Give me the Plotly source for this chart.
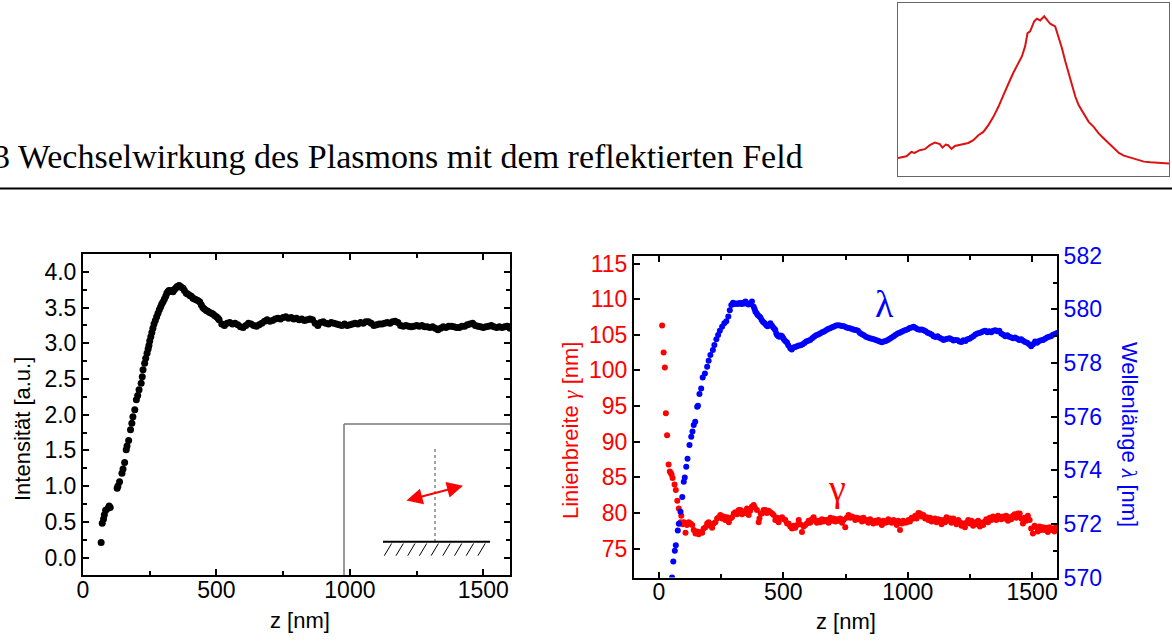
import plotly.graph_objects as go

W, H = 1172, 642

# ---------------- data ----------------
# left panel: intensity vs z
z_int = [68, 72, 77, 80, 85, 94, 98, 102, 128, 131, 137, 146, 150, 156, 162, 165, 171, 178, 183, 187,
         194, 200, 205, 210, 218, 222, 225, 231, 235, 240, 244, 247, 250, 254, 258, 262, 266, 271, 276, 281,
         286, 291, 295,
         300, 305, 310, 314, 318, 322, 327, 332, 337, 342, 347, 352, 356, 360, 364, 370, 375, 380, 387, 393,
         400, 406, 412, 418, 424, 430, 437, 443, 449, 455, 462, 468, 475, 481, 487, 493, 500, 506,
         510, 520, 530, 540, 550, 560, 570, 580, 590, 600, 610, 620, 630, 640, 650, 660, 670, 680, 690, 700,
         710, 720, 730, 740, 750, 760, 770, 780, 790, 800, 810, 820, 830, 840, 850, 860, 870, 880, 890, 900,
         910, 920, 930, 940, 950, 960, 970, 980, 990, 1000, 1010, 1020, 1030, 1040, 1050, 1060, 1070, 1080,
         1090, 1100, 1110, 1120, 1130, 1140, 1150, 1160, 1170, 1180, 1190, 1200, 1210, 1220, 1230, 1240,
         1250, 1260, 1270, 1280, 1290, 1300, 1310, 1320, 1330, 1340, 1350, 1360, 1370, 1380, 1390, 1400,
         1410, 1420, 1430, 1440, 1450, 1460, 1470, 1480, 1490, 1500, 1510, 1520, 1530, 1540, 1550, 1560,
         1570, 1580, 1590, 1600]
intensity = [0.21, 0.48, 0.54, 0.60, 0.66, 0.69, 0.72, 0.70, 0.97, 1.00, 1.06, 1.18, 1.24, 1.33, 1.51, 1.56,
             1.64, 1.79, 1.88, 1.97, 2.07, 2.21, 2.27, 2.35, 2.44, 2.53, 2.63, 2.72, 2.79, 2.86, 2.92, 2.97,
             3.03, 3.09, 3.15, 3.21, 3.27, 3.32, 3.37, 3.42, 3.47, 3.51, 3.55,
             3.58, 3.62, 3.66, 3.70, 3.72, 3.74, 3.73, 3.74, 3.72, 3.75, 3.77, 3.79, 3.80, 3.81, 3.80, 3.78,
             3.77, 3.74, 3.70, 3.69, 3.67, 3.66, 3.63, 3.62, 3.61, 3.60, 3.58, 3.54, 3.50, 3.48, 3.46, 3.45,
             3.43, 3.42, 3.41, 3.39, 3.37, 3.35,
             3.33, 3.27, 3.25, 3.28, 3.29, 3.27, 3.28, 3.26, 3.23, 3.22, 3.25, 3.28, 3.27, 3.25, 3.24, 3.26,
             3.28, 3.31, 3.33, 3.31, 3.32, 3.34, 3.35, 3.34, 3.36, 3.37, 3.35, 3.36, 3.34, 3.35, 3.33, 3.34,
             3.32, 3.33, 3.34, 3.33, 3.28, 3.25, 3.29, 3.30, 3.28, 3.27, 3.29, 3.28, 3.27, 3.26, 3.25, 3.27,
             3.25, 3.26, 3.27, 3.28, 3.27, 3.29, 3.28, 3.30, 3.30, 3.28, 3.25, 3.26, 3.27, 3.27, 3.28, 3.29,
             3.28, 3.30, 3.31, 3.29, 3.25, 3.24, 3.25, 3.24, 3.23, 3.24, 3.25, 3.24, 3.25, 3.23, 3.23, 3.22,
             3.23, 3.21, 3.19, 3.21, 3.23, 3.22, 3.24, 3.24, 3.23, 3.22, 3.22, 3.24, 3.24, 3.26, 3.27, 3.28,
             3.25, 3.24, 3.23, 3.22, 3.23, 3.24, 3.25, 3.23, 3.22, 3.23, 3.22, 3.23, 3.24, 3.21]

# right panel: linewidth gamma vs z
z_gamma = [13, 19, 24, 28, 33, 39, 44, 48, 51, 55, 63, 68, 74, 80, 87, 90, 95, 100, 103, 107, 113, 120, 127,
           134, 140, 147, 153, 160, 167, 174, 180, 187, 194, 200, 207, 214, 220, 227, 234, 241, 247, 254, 260,
           267, 274, 281, 287, 294, 301, 307, 314, 321, 328, 334, 341, 348, 354, 361, 367, 374, 381, 385, 394,
           401, 404, 409, 414, 421, 428, 434, 441, 448, 455, 461, 468, 475, 481, 488, 495, 501, 508, 515, 521,
           528, 535, 541, 548, 555, 562, 568, 575, 582, 588, 595, 602, 608, 615, 622, 628, 635, 642, 648, 655,
           662, 668, 675, 682, 689, 695, 702, 709, 716, 722, 729, 736, 742, 749, 755, 762, 769, 775, 782, 789,
           796, 802, 809, 816, 822, 829, 836, 842, 849, 856, 862, 869, 876, 882, 889, 896, 902, 909, 916, 922,
           929, 936, 943, 949, 956, 962, 969, 976, 982, 989, 996, 1003, 1009, 1016, 1023, 1030, 1036, 1043,
           1050, 1056, 1063, 1070, 1076, 1083, 1090, 1096, 1103, 1110, 1116, 1123, 1130, 1136, 1143, 1150,
           1156, 1163, 1170, 1176, 1183, 1190, 1196, 1203, 1210, 1216, 1223, 1230, 1236, 1243, 1250, 1256,
           1263, 1270, 1276, 1283, 1290, 1296, 1303, 1310, 1316, 1323, 1330, 1336, 1343, 1350, 1356, 1363,
           1370, 1376, 1383, 1390, 1396, 1403, 1410, 1416, 1423, 1430, 1436, 1443, 1450, 1456, 1463, 1470,
           1476, 1483, 1490, 1496, 1503, 1510, 1516, 1523, 1530, 1536, 1543, 1550, 1556, 1563, 1570, 1576,
           1583, 1590, 1596]
gamma = [106.3, 102.5, 100.4, 94.0, 90.9, 86.8, 85.8, 85.6, 85.4, 84.9, 84.0, 83.2, 81.7, 80.6, 78.7, 79.6,
         78.4, 78.7, 78.6, 77.2, 78.3, 78.7, 78.5, 78.3, 77.6, 77.1, 77.4, 77.0, 77.3, 77.2, 77.8, 78.0, 78.5,
         78.7, 78.2, 77.9, 78.5, 78.7, 79.2, 79.4, 79.7, 79.2, 79.5, 79.0, 79.4, 78.7, 79.2, 79.4, 79.9, 80.1,
         79.8, 80.4, 80.4, 79.8, 80.2, 80.0, 80.6, 79.7, 80.3, 80.9, 81.1, 80.8, 80.4, 78.7, 79.2, 79.9, 79.9,
         80.4, 80.4, 80.0, 80.3, 80.1, 79.9, 79.7, 79.0, 79.3, 78.7, 79.2, 79.4, 79.1, 79.0, 78.5, 78.5, 78.1,
         77.8, 78.2, 77.9, 78.3, 79.0, 78.4, 77.3, 78.1, 78.3, 78.5, 78.9, 78.6, 79.1, 79.4, 78.9, 78.6, 78.9,
         78.7, 79.1, 78.8, 79.0, 79.0, 78.6, 79.3, 78.9, 79.2, 78.8, 79.1, 78.9, 79.2, 78.6, 79.0, 78.0, 79.3,
         79.7, 79.3, 79.5, 79.4, 79.0, 79.3, 79.1, 79.2, 78.8, 79.3, 78.9, 79.0, 78.6, 79.1, 78.8, 78.5, 78.9,
         78.6, 79.0, 78.7, 78.3, 78.9, 78.6, 78.7, 79.1, 78.8, 78.6, 79.0, 78.8, 78.3, 78.9, 77.6, 78.5, 78.9,
         78.6, 78.7, 79.0, 78.8, 79.3, 79.2, 79.6, 79.2, 80.0, 79.9, 79.5, 79.7, 79.2, 79.4, 79.0, 79.3, 78.8,
         79.0, 79.2, 78.7, 79.1, 79.0, 78.4, 79.0, 78.7, 79.4, 78.9, 79.2, 78.6, 79.2, 78.9, 78.4, 79.0, 78.7,
         78.2, 78.5, 78.0, 78.6, 79.0, 78.5, 78.9, 78.2, 78.7, 78.4, 78.9, 78.1, 78.6, 78.3, 78.8, 79.1, 78.7,
         79.3, 79.0, 79.5, 79.2, 79.0, 79.6, 79.4, 79.1, 79.5, 79.2, 79.6, 78.9, 79.4, 79.1, 79.6, 79.8, 79.3,
         79.9, 79.9, 79.2, 78.5, 79.3, 78.9, 79.6, 79.0, 77.8, 77.1, 78.2, 78.0, 77.4, 78.1, 77.6, 78.0, 77.6,
         77.9, 77.3, 78.0, 77.6, 77.8, 77.4, 78.0]

# right panel: resonance wavelength lambda vs z
z_lambda = [53, 58, 64, 68, 76, 80, 87, 94, 100, 104, 110, 115, 123, 130, 135, 140, 146, 154, 157, 163, 170,
            176, 185, 194, 200, 207, 217, 223, 231, 238, 245, 254, 263, 271, 279, 285, 291, 298, 304, 310, 317,
            323, 328, 333, 338, 343, 348, 354, 360, 365, 370, 374, 381, 385, 388, 393, 397, 403, 408, 413, 418,
            423, 428, 433, 437, 443, 448, 454, 459, 464, 468, 472, 475, 480, 485, 490, 495, 500, 504, 510, 515,
            520, 528, 534, 541, 548, 555, 562, 570, 578, 585, 592, 600, 608, 616, 624, 632, 640, 648, 656, 664,
            672, 680, 688, 696, 704, 712, 720, 728, 736, 744, 752, 760, 768, 776, 784, 792, 800, 808, 816, 824,
            832, 840, 848, 856, 864, 872, 880, 888, 896, 904, 912, 920, 928, 936, 944, 952, 960, 968, 976, 984,
            992, 1000, 1008, 1016, 1024, 1032, 1040, 1048, 1056, 1064, 1072, 1080, 1088, 1096, 1104, 1112, 1120,
            1128, 1136, 1144, 1152, 1160, 1168, 1176, 1184, 1192, 1200, 1208, 1216, 1224, 1232, 1240, 1248,
            1256, 1264, 1272, 1280, 1288, 1296, 1304, 1312, 1320, 1328, 1336, 1344, 1352, 1360, 1368, 1376,
            1384, 1392, 1400, 1408, 1416, 1424, 1432, 1440, 1448, 1456, 1464, 1472, 1480, 1488, 1496, 1504,
            1512, 1520, 1528, 1536, 1544, 1552, 1560, 1568, 1576, 1584, 1592, 1600]
wavelength = [570.0, 570.6, 571.0, 571.2, 571.75, 572.0, 572.45, 573.0, 573.57, 573.73, 574.13, 574.43,
              574.94, 575.25, 575.44, 575.69, 575.81, 576.37, 576.4, 576.84, 577.05, 577.46, 577.61, 577.86,
              578.08, 578.3, 578.48, 578.67, 578.88, 579.04, 579.2, 579.35, 579.48, 579.56, 579.73, 579.97,
              580.16, 580.25, 580.2, 580.22, 580.2, 580.24, 580.22, 580.2, 580.25, 580.22, 580.29, 580.22,
              580.18, 580.2, 580.25, 580.29, 580.1, 580.0, 579.91, 579.85, 579.79, 579.74, 579.7, 579.6,
              579.54, 579.5, 579.45, 579.4, 579.37, 579.42, 579.48, 579.4, 579.33, 579.28, 579.23, 579.1,
              579.04, 579.0, 578.98, 579.02, 579.0, 578.92, 578.86, 578.8, 578.76, 578.66, 578.55, 578.5,
              578.58, 578.6, 578.62, 578.65, 578.66, 578.7, 578.74, 578.8, 578.83, 578.86, 578.92, 578.98,
              579.03, 579.06, 579.1, 579.15, 579.17, 579.22, 579.27, 579.29, 579.33, 579.36, 579.4, 579.41,
              579.4, 579.38, 579.37, 579.33, 579.3, 579.29, 579.27, 579.24, 579.23, 579.2, 579.12, 579.07,
              579.03, 578.98, 578.95, 578.92, 578.9, 578.88, 578.86, 578.83, 578.8, 578.77, 578.8, 578.82,
              578.86, 578.9, 578.95, 579.0, 579.05, 579.1, 579.13, 579.16, 579.2, 579.23, 579.26, 579.3,
              579.32, 579.35, 579.3, 579.26, 579.24, 579.25, 579.22, 579.18, 579.13, 579.1, 579.06, 579.0,
              578.97, 579.0, 578.94, 578.9, 578.86, 578.88, 578.9, 578.92, 578.88, 578.84, 578.86, 578.85,
              578.8, 578.78, 578.85, 578.82, 578.88, 578.9, 578.95, 579.0, 579.06, 579.1, 579.12, 579.15,
              579.18, 579.2, 579.15, 579.18, 579.15, 579.2, 579.22, 579.18, 579.2, 579.1, 579.05, 579.0,
              579.03, 578.98, 578.95, 578.92, 578.95, 578.9, 578.86, 578.88, 578.83, 578.78, 578.75, 578.7,
              578.62, 578.7, 578.8, 578.75, 578.82, 578.85, 578.86, 578.9, 578.95, 578.98, 579.0, 579.05,
              579.08, 579.12]

# top-right inset: scattering spectrum
spec_wl = [480, 486.2, 489.9, 492.3, 496.0, 499.8, 503.5, 507.2, 510.9, 512.8, 515.3, 517.0, 519.5, 522.0,
           526.9, 531.9, 535.6, 539.3, 543.0, 546.7, 550.4, 554.1, 557.8, 560.2, 562.7, 565.2, 568.9, 571.4,
           573.8, 575.6, 577.5, 580.5, 582.5, 584.9, 587.9, 589.9, 592.3, 596.0, 598.5, 601.0, 603.5, 605.9,
           608.4, 610.9, 613.3, 617.0, 620.7, 624.4, 628.1, 631.9, 635.6, 639.3, 643.0, 646.7, 651.6, 656.5,
           661.5, 666.4, 671.4, 676.3, 680.0]
spec_int = [0.104, 0.114, 0.139, 0.133, 0.149, 0.155, 0.178, 0.193, 0.184, 0.164, 0.182, 0.178, 0.157,
            0.174, 0.182, 0.191, 0.207, 0.236, 0.255, 0.294, 0.342, 0.400, 0.468, 0.516, 0.555, 0.598, 0.652,
            0.691, 0.749, 0.826, 0.836, 0.894, 0.909, 0.899, 0.923, 0.903, 0.880, 0.865, 0.807, 0.739, 0.662,
            0.594, 0.516, 0.458, 0.410, 0.362, 0.313, 0.284, 0.246, 0.217, 0.188, 0.159, 0.133, 0.118, 0.106,
            0.095, 0.083, 0.079, 0.075, 0.073, 0.072]

left_xticks = [0, 500, 1000, 1500]
left_yticks = [0.0, 0.5, 1.0, 1.5, 2.0, 2.5, 3.0, 3.5, 4.0]
gamma_ticks = [75, 80, 85, 90, 95, 100, 105, 110, 115]
lambda_ticks = [570, 572, 574, 576, 578, 580, 582]

header = "3 Wechselwirkung des Plasmons mit dem reflektierten Feld"

RED = "#ff0000"
BLUE = "#0000ff"
SANS = "Liberation Sans, Arial, sans-serif"
SERIF = "Liberation Serif, Times New Roman, serif"
TICKF = 23


def px(x):
    return x / W


def py(y):
    return 1 - y / H


fig = go.Figure()

fig.add_trace(go.Scatter(x=z_int, y=intensity, mode="markers", xaxis="x", yaxis="y",
                         marker=dict(color="black", size=7), showlegend=False))
fig.add_trace(go.Scatter(x=z_gamma, y=gamma, mode="markers", xaxis="x2", yaxis="y2",
                         marker=dict(color=RED, size=6), showlegend=False))
fig.add_trace(go.Scatter(x=z_lambda, y=wavelength, mode="markers", xaxis="x2", yaxis="y3",
                         marker=dict(color=BLUE, size=6), showlegend=False))
fig.add_trace(go.Scatter(x=spec_wl, y=spec_int, mode="lines", xaxis="x4", yaxis="y4",
                         line=dict(color="#dd1111", width=2), showlegend=False))

frame = dict(showline=True, linecolor="black", linewidth=2, ticks="inside", tickcolor="black",
             ticklen=6, tickwidth=2, showgrid=False, zeroline=False, automargin=False)
plain = dict(showline=True, mirror=True, linecolor="#666666", linewidth=1, showticklabels=False,
             ticks="", showgrid=False, zeroline=False, automargin=False)

fig.update_layout(
    template="none",
    width=W, height=H, margin=dict(l=0, r=0, t=0, b=0, pad=0), autosize=False,
    paper_bgcolor="white", plot_bgcolor="white",
    xaxis=dict(domain=[px(83), px(510)], range=[0, 1600], tickvals=left_xticks, mirror="ticks",
               anchor="y", tickfont=dict(family=SANS, size=TICKF, color="black"), ticklabelstandoff=-7,
               minor=dict(ticks="inside", ticklen=4, tickwidth=2, tickcolor="black", dtick=250, tick0=0),
               **frame),
    yaxis=dict(domain=[py(575), py(254)], range=[-0.245, 4.25], tickvals=left_yticks, mirror="ticks",
               anchor="x", tickformat=".1f", tickfont=dict(family=SANS, size=TICKF, color="black"),
               minor=dict(ticks="inside", ticklen=4, tickwidth=2, tickcolor="black", dtick=0.25, tick0=0),
               **frame),
    xaxis2=dict(domain=[px(634), px(1057)], range=[-100, 1600], tickvals=left_xticks, mirror="ticks",
                anchor="y2", tickfont=dict(family=SANS, size=TICKF, color="black"), ticklabelstandoff=-7,
                minor=dict(ticks="inside", ticklen=4, tickwidth=2, tickcolor="black", dtick=250, tick0=0),
                **frame),
    yaxis2=dict(domain=[py(577.5), py(255.7)], range=[70.93, 116.1], tickvals=gamma_ticks,
                anchor="x2", side="left", tickfont=dict(family=SANS, size=TICKF, color=RED), **frame),
    yaxis3=dict(range=[570, 582], tickvals=lambda_ticks, overlaying="y2", anchor="x2", side="right",
                tickfont=dict(family=SANS, size=TICKF, color=BLUE),
                minor=dict(ticks="inside", ticklen=4, tickwidth=2, tickcolor="black", dtick=1, tick0=570),
                **frame),
    xaxis4=dict(domain=[px(898), px(1169)], range=[480, 680], anchor="y4", **plain),
    yaxis4=dict(domain=[py(176), py(3)], range=[0, 1], anchor="x4", **plain),
)


def note(text, x, y, size, color, family=SANS, angle=0, xanchor="center"):
    return dict(text=text, x=px(x), y=py(y), xref="paper", yref="paper", xanchor=xanchor,
                yanchor="middle", textangle=angle, showarrow=False,
                font=dict(family=family, size=size, color=color))


annotations = [
    note(header, -9, 157, 34, "black", family=SERIF, xanchor="left"),
    note("Intensität [a.u.]", 22, 429, 22, "black", angle=-90),
    note("z [nm]", 300, 620, 22, "black"),
    note("z [nm]", 846, 621, 22, "black"),
    note('Linienbreite <span style="font-family:Liberation Serif;font-style:italic">γ</span> [nm]',
         570, 431, 22, RED, angle=-90),
    note('Wellenlänge <span style="font-family:Liberation Serif;font-style:italic">λ</span> [nm]',
         1130, 434, 22, BLUE, angle=90),
    note("λ", 884, 304, 38, BLUE, family=SERIF),
    note("γ", 837, 488, 38, RED, family=SERIF),
    # polarisation double arrow in the schematic inset
    dict(text="", x=px(463), y=py(485.7), ax=-58, ay=15.3, xref="paper", yref="paper",
         showarrow=True, arrowhead=2, startarrowhead=2, arrowside="end+start", arrowsize=1.6,
         startarrowsize=1.6, arrowwidth=2, arrowcolor=RED),
]
fig.update_layout(annotations=annotations)

shapes = [
    # header rule
    dict(type="line", xref="paper", yref="paper", x0=0, x1=1, y0=py(188.5), y1=py(188.5),
         line=dict(color="black", width=2)),
    # schematic inset frame (left, top)
    dict(type="line", xref="paper", yref="paper", x0=px(344), x1=px(344), y0=py(575), y1=py(424),
         line=dict(color="#777777", width=1.5)),
    dict(type="line", xref="paper", yref="paper", x0=px(344), x1=px(510), y0=py(424), y1=py(424),
         line=dict(color="#777777", width=1.5)),
    # dotted normal
    dict(type="line", xref="paper", yref="paper", x0=px(435), x1=px(435), y0=py(449), y1=py(541),
         line=dict(color="#444444", width=1, dash="dot")),
    # surface
    dict(type="line", xref="paper", yref="paper", x0=px(383), x1=px(490), y0=py(541.7), y1=py(541.7),
         line=dict(color="black", width=2)),
]
for k in range(9):
    xb = 384.3 + k * 11.7
    shapes.append(dict(type="line", xref="paper", yref="paper", x0=px(xb), x1=px(xb + 7.3),
                       y0=py(555.7), y1=py(543.5), line=dict(color="black", width=1)))
fig.update_layout(shapes=shapes)

fig.write_html("out.html")
